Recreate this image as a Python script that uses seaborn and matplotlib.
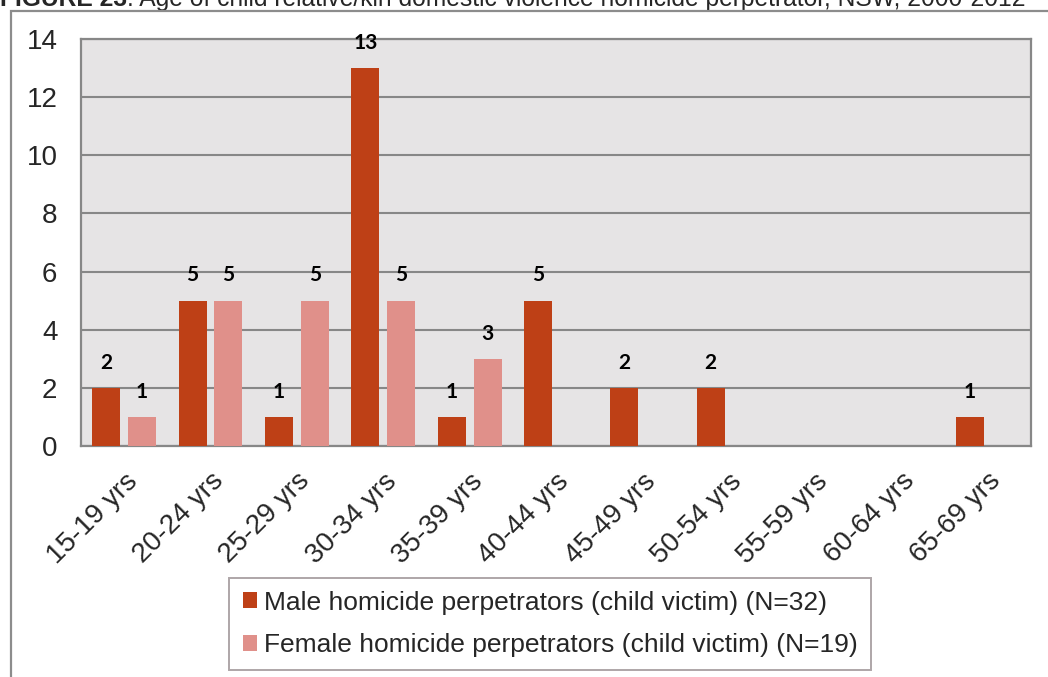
import pandas as pd
import matplotlib.pyplot as plt
import seaborn as sns
from matplotlib.patches import Rectangle

# data
age_groups = ['15-19 yrs', '20-24 yrs', '25-29 yrs', '30-34 yrs', '35-39 yrs', '40-44 yrs',
              '45-49 yrs', '50-54 yrs', '55-59 yrs', '60-64 yrs', '65-69 yrs']
male_counts = [2, 5, 1, 13, 1, 5, 2, 2, 0, 0, 1]
female_counts = [1, 5, 5, 5, 3, 0, 0, 0, 0, 0, 0]
male_label = 'Male homicide perpetrators (child victim) (N=32)'
female_label = 'Female homicide perpetrators (child victim) (N=19)'
y_ticks = [0, 2, 4, 6, 8, 10, 12, 14]

MALE_COL = '#BE4016'
FEMALE_COL = '#E0908A'
GRID_COL = '#878787'

df = pd.DataFrame({
    'age': age_groups * 2,
    'count': male_counts + female_counts,
    'group': [male_label] * len(age_groups) + [female_label] * len(age_groups),
})

sns.set_theme(style='white')
plt.rcParams['font.family'] = ['Liberation Sans', 'DejaVu Sans']

fig = plt.figure(figsize=(10.48, 6.77), dpi=100)
ax = fig.add_axes([81 / 1048, 1 - 446 / 677, 950 / 1048, 407 / 677])

sns.barplot(data=df, x='age', y='count', hue='group', order=age_groups,
            palette={male_label: MALE_COL, female_label: FEMALE_COL},
            width=0.83, gap=0.22, saturation=1, linewidth=0, ax=ax, zorder=3)

ax.set_facecolor('#E6E4E5')
ax.set_ylim(0, 14)
ax.set_xlim(-0.5, len(age_groups) - 0.5)
ax.set_yticks(y_ticks)
ax.set_xlabel('')
ax.set_ylabel('')
ax.yaxis.grid(True, color=GRID_COL, linewidth=1.5, zorder=1)
ax.set_axisbelow(True)
for sp in ax.spines.values():
    sp.set_color(GRID_COL)
    sp.set_linewidth(1.6)
    sp.set_visible(True)

ax.tick_params(axis='y', length=0, pad=17, labelsize=20)
ax.tick_params(axis='x', length=0, pad=16, labelsize=20)
for lbl in ax.get_xticklabels():
    lbl.set_rotation(45)
    lbl.set_ha('right')
    lbl.set_rotation_mode('anchor')

# value labels above bars (zeros left blank)
for cont in ax.containers:
    labels = [f'{int(b.get_height())}' if b.get_height() > 0 else '' for b in cont]
    ax.bar_label(cont, labels=labels, padding=11, fontsize=15, fontweight='bold',
                 family=['Lato', 'DejaVu Sans'], color='black')

leg = ax.legend(loc='center', bbox_to_anchor=(550 / 1048, 1 - 624 / 677),
                bbox_transform=fig.transFigure, fontsize=19, frameon=True,
                fancybox=False, edgecolor='#9A9092', handlelength=0.55, handleheight=0.55,
                handletextpad=0.25, labelspacing=0.7, borderpad=0.5)
leg.get_frame().set_linewidth(1.4)

# outer frame and cut-off caption
fig.patches.append(Rectangle((11 / 1048, -0.1), 1.1, 1 - 11 / 677 + 0.1,
                             transform=fig.transFigure, fill=False,
                             edgecolor='#8C8C8C', linewidth=1.6))
t1 = fig.text(0.0, 1 - 6 / 677, 'FIGURE 23', fontsize=17.7, fontweight='bold', va='baseline')
ax.annotate(': Age of child relative/kin domestic violence homicide perpetrator, NSW, 2000-2012',
            xy=(1, 0), xycoords=t1, va='bottom', ha='left', fontsize=17.7,
            annotation_clip=False)

fig.savefig('out.png', dpi=100)
